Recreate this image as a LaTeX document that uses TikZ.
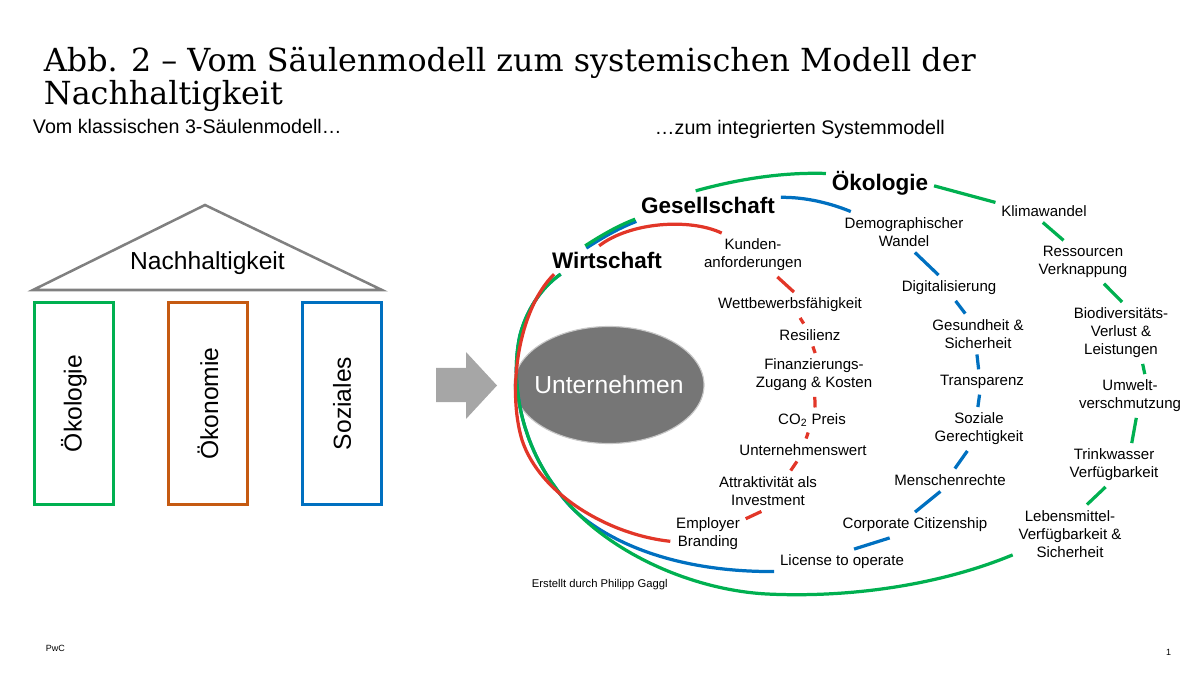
\documentclass[tikz,border=0pt]{standalone}
\usepackage{fontspec}
\setmainfont{Liberation Sans}
\newfontfamily\abbserif{DejaVu Serif}
\usetikzlibrary{shapes.geometric, positioning}
\definecolor{OekoGreen}{RGB}{0, 176, 80}
\definecolor{SozialBlue}{RGB}{0, 112, 192}
\definecolor{WirtRed}{RGB}{226, 54, 40}
\definecolor{PillarOrange}{RGB}{197, 90, 17}
\definecolor{RoofGray}{RGB}{128, 128, 128}
\definecolor{ArrowGray}{RGB}{166, 166, 166}
\definecolor{CoreGray}{RGB}{118, 118, 118}

\begin{document}
\begin{tikzpicture}[x=0.025cm, y=-0.025cm,
            topic/.style={align=center, inner sep=4pt,
                          font=\fontsize{10.7}{12.8}\selectfont},
            ringhead/.style={inner sep=4pt, font=\bfseries\fontsize{16}{19}\selectfont},
            pillar/.style={draw, line width=2.1pt, rotate=90, minimum width=5.05cm,
                           minimum height=1.975cm, font=\fontsize{17.5}{21}\selectfont},
            strand/.style={line width=2.3pt},
            caption/.style={anchor=base west, font=\fontsize{14}{17}\selectfont}
        ]
            \useasboundingbox (0,0) rectangle (1200,674);

            \node[anchor=base west, font=\abbserif\fontsize{22.6}{26}\selectfont] (title) at (39,72)
                {Abb. 2 – Vom Säulenmodell zum systemischen Modell der};
            \node[anchor=base west, font=\abbserif\fontsize{22.6}{26}\selectfont] (title2) at (39,105)
                {Nachhaltigkeit};
            \node[caption] (links) at (28,134) {Vom klassischen 3-Säulenmodell…};
            \node[caption] (rechts) at (650,135) {…zum integrierten Systemmodell};

            \draw[RoofGray, line width=1.8pt] (33,290) -- (205,205) -- (382,290) -- cycle;
            \node[anchor=base, font=\fontsize{17.5}{21}\selectfont] (nach) at (207.5,270)
                {Nachhaltigkeit};
            \node[pillar, draw=OekoGreen] (poeko) at (74,403.5) {Ökologie};
            \node[pillar, draw=PillarOrange] (poekon) at (208,403.5) {Ökonomie};
            \node[pillar, draw=SozialBlue] (psoz) at (342,403.5) {Soziales};

            \fill[ArrowGray] (436,368) -- (466,368) -- (466,352) -- (497,385.5)
                -- (466,419) -- (466,402) -- (436,402) -- cycle;

            \draw[fill=CoreGray, draw=CoreGray!40, line width=0.8pt]
                (609,385) ellipse [x radius=95, y radius=58.5];
            \node[text=white, font=\fontsize{17.5}{21}\selectfont] (unt) at (609,385) {Unternehmen};

            \node[ringhead] (wirt) at (607,260) {Wirtschaft};
            \node[ringhead] (gese) at (708,205) {Gesellschaft};
            \node[ringhead] (oeko) at (880,183) {Ökologie};

            \node[topic] (kund) at (753,255) {Kunden-\\anforderungen};
            \node[topic] (wett) at (790,305) {Wettbewerbsfähigkeit};
            \node[topic] (resi) at (810,335) {Resilienz};
            \node[topic] (finz) at (814,375) {Finanzierungs-\\Zugang \& Kosten};
            \node[topic] (co2) at (812,420) {CO\textsubscript{2} Preis};
            \node[topic] (uwert) at (803,450) {Unternehmenswert};
            \node[topic] (attr) at (768,491) {Attraktivität als\\Investment};
            \node[topic] (empl) at (708,534) {Employer\\Branding};

            \node[topic] (demo) at (904,232) {Demographischer\\Wandel};
            \node[topic] (digi) at (949,288) {Digitalisierung};
            \node[topic] (gesu) at (978,334) {Gesundheit \&\\Sicherheit};
            \node[topic] (tran) at (982,382) {Transparenz};
            \node[topic] (sozi) at (979,429) {Soziale\\Gerechtigkeit};
            \node[topic] (mens) at (950,480) {Menschenrechte};
            \node[topic] (corp) at (915,525) {Corporate Citizenship};
            \node[topic] (lice) at (842,562) {License to operate};

            \node[topic] (klim) at (1044,211) {Klimawandel};
            \node[topic] (ress) at (1083,262) {Ressourcen\\Verknappung};
            \node[topic] (biod) at (1121,333) {Biodiversitäts-\\Verlust \&\\Leistungen};
            \node[topic] (umwe) at (1130,396) {Umwelt-\\verschmutzung};
            \node[topic] (trin) at (1114,465) {Trinkwasser\\Verfügbarkeit};
            \node[topic] (lebe) at (1070,534) {Lebensmittel-\\Verfügbarkeit \&\\Sicherheit};

            \draw[strand, SozialBlue] (lice.-172) .. controls (700,572) and (635,555) .. (590,523)
                .. controls (580,516) and (568,506) .. (555,487)
                .. controls (520,440) and (510,380) .. (520,335)
                .. controls (528,305) and (545,285) .. (wirt.-163);
            \draw[strand, SozialBlue, transform canvas={shift={(0.8pt,-1.6pt)}}]
                (wirt.147) .. controls (605,233) and (620,225) .. (gese.-169);
            \draw[strand, SozialBlue] (gese.6) .. controls (805,197) and (830,203) .. (demo.159);
            \draw[strand, SozialBlue] (demo.-62) -- (digi.129);
            \draw[strand, SozialBlue] (digi.-63) -- (gesu.122);
            \draw[strand, SozialBlue] (gesu.-93) -- (tran.105);
            \draw[strand, SozialBlue] (tran.-101) -- (sozi.93);
            \draw[strand, SozialBlue] (sozi.-118) -- (mens.67);
            \draw[strand, SozialBlue] (mens.-130) -- (corp.90);
            \draw[strand, SozialBlue] (corp.-153) -- (lice.47);

            \draw[strand, OekoGreen] (lebe.-160) .. controls (940,585) and (850,598) .. (767,594)
                .. controls (690,590) and (600,550) .. (555,487)
                .. controls (520,440) and (510,380) .. (520,335)
                .. controls (528,305) and (545,285) .. (wirt.-163);
            \draw[strand, OekoGreen] (wirt.147) .. controls (605,233) and (620,225) .. (gese.-169);
            \draw[strand, OekoGreen] (gese.131) .. controls (735,180) and (780,172) .. (oeko.170);
            \draw[strand, OekoGreen] (oeko.-3) -- (klim.170);
            \draw[strand, OekoGreen] (klim.-96) -- (ress.132);
            \draw[strand, OekoGreen] (ress.-46) -- (biod.88);
            \draw[strand, OekoGreen] (biod.-55) -- (umwe.56);
            \draw[strand, OekoGreen] (umwe.-74) -- (trin.51);
            \draw[strand, OekoGreen] (trin.-111) -- (lebe.60);

            \draw[strand, WirtRed] (empl.-169) .. controls (610,535) and (540,495) .. (522,440)
                .. controls (507,390) and (518,310) .. (wirt.-165);
            \draw[strand, WirtRed] (wirt.119) .. controls (630,222) and (690,218) .. (kund.145);
            \draw[strand, WirtRed] (kund.-42) -- (wett.73);
            \draw[strand, WirtRed] (wett.-52) -- (resi.119);
            \draw[strand, WirtRed] (resi.-76) -- (finz.87);
            \draw[strand, WirtRed] (finz.-88) -- (co2.76);
            \draw[strand, WirtRed] (co2.-107) -- (uwert.75);
            \draw[strand, WirtRed] (uwert.-118) -- (attr.42);
            \draw[strand, WirtRed] (attr.-108) -- (empl.22);

            \node[anchor=base west, font=\fontsize{8}{10}\selectfont] (credit) at (527,587)
                {Erstellt durch Philipp Gaggl};
            \node[anchor=base west, font=\fontsize{6.4}{8}\selectfont] (pwc) at (41,651) {PwC};
            \node[anchor=base east, font=\fontsize{6.4}{8}\selectfont] (page) at (1176,655) {1};
        \end{tikzpicture}
\end{document}
